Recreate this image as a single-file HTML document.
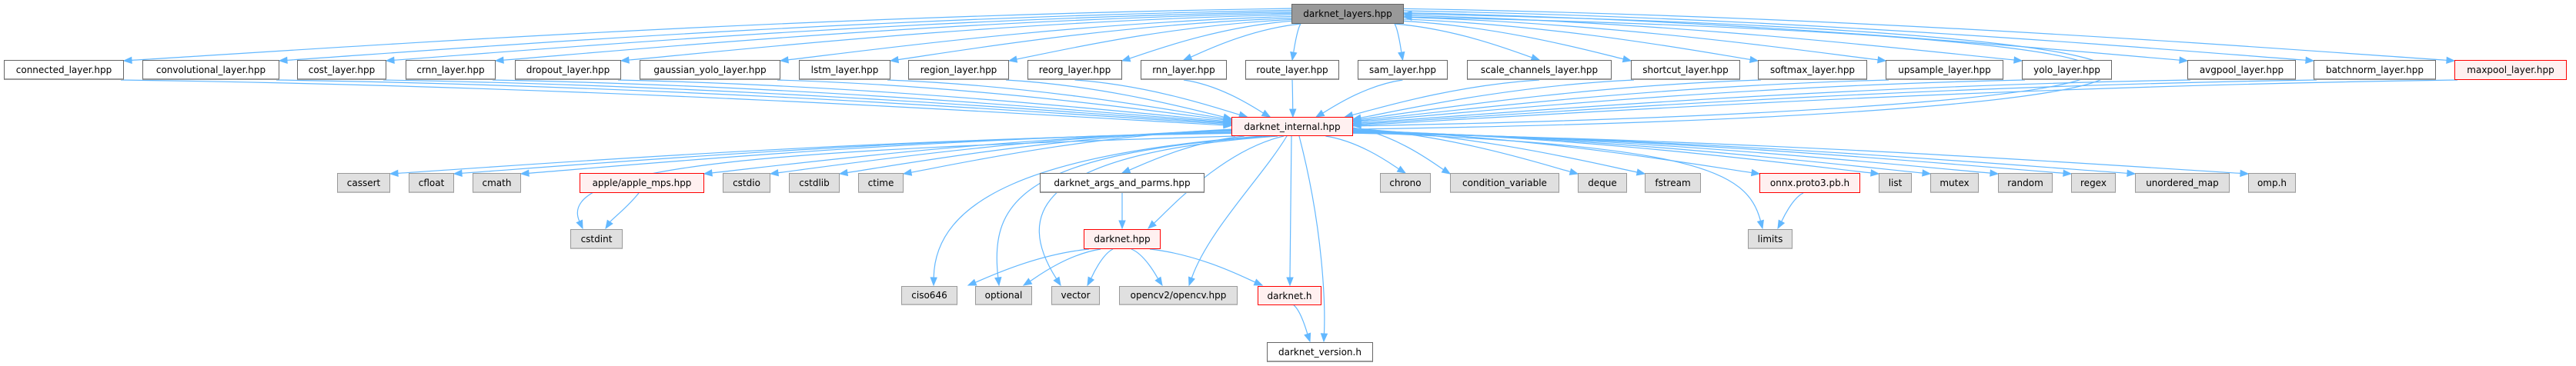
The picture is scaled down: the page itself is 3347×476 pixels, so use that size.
<!DOCTYPE html>
<html><head><meta charset="utf-8">
<style>
html,body{margin:0;padding:0;background:#fff;}
#c{position:relative;width:3347px;height:476px;overflow:hidden;}
svg{position:absolute;left:0;top:0;}
.n{position:absolute;box-sizing:border-box;font-family:"DejaVu Sans","Liberation Sans",sans-serif;font-size:12px;color:#000;display:flex;align-items:center;justify-content:center;white-space:nowrap;}
.w{background:#fff;border:1px solid #666;border-bottom:2px solid #999;}
.g{background:#e0e0e0;border:1px solid #999;border-bottom:2px solid #bbb;}
.r{background:#fff0f0;border:1px solid #f00;}
.t{background:#999;border:1px solid #666;}
</style></head><body>
<div id="c">
<svg id="s" width="3347" height="476" xmlns="http://www.w3.org/2000/svg"></svg>
<div class="n t" style="left:1678px;top:5px;width:146px;height:26px">darknet_layers.hpp</div>
<div class="n w" style="left:5px;top:78px;width:156px;height:26px">connected_layer.hpp</div>
<div class="n w" style="left:185px;top:78px;width:178px;height:26px">convolutional_layer.hpp</div>
<div class="n w" style="left:386px;top:78px;width:116px;height:26px">cost_layer.hpp</div>
<div class="n w" style="left:527px;top:78px;width:117px;height:26px">crnn_layer.hpp</div>
<div class="n w" style="left:669px;top:78px;width:138px;height:26px">dropout_layer.hpp</div>
<div class="n w" style="left:831px;top:78px;width:183px;height:26px">gaussian_yolo_layer.hpp</div>
<div class="n w" style="left:1038px;top:78px;width:119px;height:26px">lstm_layer.hpp</div>
<div class="n w" style="left:1180px;top:78px;width:131px;height:26px">region_layer.hpp</div>
<div class="n w" style="left:1335px;top:78px;width:123px;height:26px">reorg_layer.hpp</div>
<div class="n w" style="left:1482px;top:78px;width:112px;height:26px">rnn_layer.hpp</div>
<div class="n w" style="left:1618px;top:78px;width:122px;height:26px">route_layer.hpp</div>
<div class="n w" style="left:1764px;top:78px;width:117px;height:26px">sam_layer.hpp</div>
<div class="n w" style="left:1906px;top:78px;width:188px;height:26px">scale_channels_layer.hpp</div>
<div class="n w" style="left:2119px;top:78px;width:142px;height:26px">shortcut_layer.hpp</div>
<div class="n w" style="left:2284px;top:78px;width:142px;height:26px">softmax_layer.hpp</div>
<div class="n w" style="left:2450px;top:78px;width:153px;height:26px">upsample_layer.hpp</div>
<div class="n w" style="left:2627px;top:78px;width:117px;height:26px">yolo_layer.hpp</div>
<div class="n w" style="left:2842px;top:78px;width:141px;height:26px">avgpool_layer.hpp</div>
<div class="n w" style="left:3006px;top:78px;width:159px;height:26px">batchnorm_layer.hpp</div>
<div class="n r" style="left:3189px;top:78px;width:146px;height:26px">maxpool_layer.hpp</div>
<div class="n r" style="left:1600px;top:152px;width:158px;height:25px">darknet_internal.hpp</div>
<div class="n g" style="left:438px;top:225px;width:69px;height:26px">cassert</div>
<div class="n g" style="left:531px;top:225px;width:59px;height:26px">cfloat</div>
<div class="n g" style="left:614px;top:225px;width:63px;height:26px">cmath</div>
<div class="n r" style="left:753px;top:225px;width:162px;height:26px">apple/apple_mps.hpp</div>
<div class="n g" style="left:939px;top:225px;width:62px;height:26px">cstdio</div>
<div class="n g" style="left:1025px;top:225px;width:66px;height:26px">cstdlib</div>
<div class="n g" style="left:1115px;top:225px;width:59px;height:26px">ctime</div>
<div class="n w" style="left:1351px;top:225px;width:214px;height:26px">darknet_args_and_parms.hpp</div>
<div class="n g" style="left:1793px;top:225px;width:66px;height:26px">chrono</div>
<div class="n g" style="left:1884px;top:225px;width:142px;height:26px">condition_variable</div>
<div class="n g" style="left:2050px;top:225px;width:64px;height:26px">deque</div>
<div class="n g" style="left:2137px;top:225px;width:73px;height:26px">fstream</div>
<div class="n r" style="left:2286px;top:225px;width:131px;height:26px">onnx.proto3.pb.h</div>
<div class="n g" style="left:2441px;top:225px;width:43px;height:26px">list</div>
<div class="n g" style="left:2508px;top:225px;width:63px;height:26px">mutex</div>
<div class="n g" style="left:2596px;top:225px;width:71px;height:26px">random</div>
<div class="n g" style="left:2691px;top:225px;width:58px;height:26px">regex</div>
<div class="n g" style="left:2774px;top:225px;width:123px;height:26px">unordered_map</div>
<div class="n g" style="left:2921px;top:225px;width:62px;height:26px">omp.h</div>
<div class="n g" style="left:741px;top:298px;width:68px;height:26px">cstdint</div>
<div class="n r" style="left:1408px;top:298px;width:100px;height:26px">darknet.hpp</div>
<div class="n g" style="left:2271px;top:298px;width:58px;height:26px">limits</div>
<div class="n g" style="left:1171px;top:372px;width:73px;height:25px">ciso646</div>
<div class="n g" style="left:1267px;top:372px;width:74px;height:25px">optional</div>
<div class="n g" style="left:1366px;top:372px;width:63px;height:25px">vector</div>
<div class="n g" style="left:1454px;top:372px;width:154px;height:25px">opencv2/opencv.hpp</div>
<div class="n r" style="left:1634px;top:372px;width:83px;height:25px">darknet.h</div>
<div class="n w" style="left:1646px;top:445px;width:138px;height:26px">darknet_version.h</div>
</div>
<script>
(function(){
var svg=document.getElementById('s'),NS='http://www.w3.org/2000/svg',out='';
function E(s,c1,c2,e){
 var dx=e[0]-c2[0],dy=e[1]-c2[1],L=Math.sqrt(dx*dx+dy*dy)||1;dx/=L;dy/=L;
 var bx=e[0]-dx*10,by=e[1]-dy*10;
 out+='<path d="M'+s[0]+','+s[1]+' C'+c1[0]+','+c1[1]+' '+c2[0]+','+c2[1]+' '+bx+','+by+'" fill="none" stroke="#63b8ff" stroke-width="1.2"/>';
 out+='<polygon points="'+e[0]+','+e[1]+' '+(bx-dy*4)+','+(by+dx*4)+' '+(bx+dy*4)+','+(by-dx*4)+'" fill="#63b8ff" stroke="#63b8ff"/>';
}
function S(s,e){E(s,[s[0]+(e[0]-s[0])*0.45,s[1]+(e[1]-s[1])*0.15],[s[0]+(e[0]-s[0])*0.85,e[1]-(e[1]-s[1])*0.2],e);}
var r1=[[5,161],[185,363],[386,502],[527,644],[669,807],[831,1014],[1038,1157],[1180,1311],[1335,1458],[1482,1594],[1618,1740],[1764,1881],[1906,2094],[2119,2261],[2284,2426],[2450,2603],[2627,2744],[2842,2983],[3006,3165],[3189,3335]];
var TL=1678,TR=1824,IL=1600,IR=1758;
r1.forEach(function(b){
 var cx=(b[0]+b[1])/2,s,e,d;
 if(cx<1450){d=(1450-cx)/1450;s=[TL,28-d*18];e=[b[1],79];}
 else if(cx>2150){d=(cx-2150)/1200;s=[TR,28-d*18];e=[b[0],79];}
 else{s=[Math.min(Math.max(cx,1690),1812),31];e=[Math.min(Math.max(cx,b[0]+12),b[1]-12),78];}
 S(s,e);
 // to internal
 var s2,e2;
 if(cx<1300){d=(1300-cx)/1300;s2=[b[1]-4,104];e2=[IL,154+d*10];}
 else if(cx>2050){d=(cx-2050)/1300;s2=[b[0]+4,104];e2=[IR,154+d*10];}
 else{s2=[cx,104];e2=[Math.min(Math.max(IL+(cx-1300)/750*158,IL+10),IR-10),152];}
 S(s2,e2);
});
var r3=[[438,507],[531,590],[614,677],[753,915],[939,1001],[1025,1091],[1115,1174],[1351,1565],[1793,1859],[1884,2026],[2050,2114],[2137,2210],[2286,2417],[2441,2484],[2508,2571],[2596,2667],[2691,2749],[2774,2897],[2921,2983]];
r3.forEach(function(b){
 var cx=(b[0]+b[1])/2,s,e,d;
 if(cx<1400){d=(1400-cx)/1000;s=[IL,166+d*8];e=[b[1],226];}
 else if(cx>1950){d=(cx-1950)/1100;s=[IR,166+d*8];e=[b[0],226];}
 else{s=[Math.min(Math.max(IL+(cx-1400)/550*158,IL+10),IR-10),177];e=[Math.min(Math.max(cx,b[0]+10),b[1]-10),225];}
 S(s,e);
});
E([1605,177],[1000,195],[720,215],[757,297]);
E([1640,177],[1340,200],[1215,260],[1213,371]);
E([1650,177],[1330,200],[1285,260],[1298,371]);
E([1660,177],[1340,200],[1320,280],[1378,371]);
S([1668,177],[1492,297]);
E([1672,177],[1640,230],[1570,300],[1545,371]);
E([1678,177],[1677,250],[1676,320],[1676,371]);
E([1688,177],[1720,300],[1722,400],[1720,444]);
E([1758,172],[2200,190],[2270,220],[2290,297]);
E([830,251],[815,270],[795,285],[787,297]);
E([1458,251],[1458,270],[1458,285],[1458,297]);
S([1415,324],[1258,371]);
S([1430,324],[1330,371]);
S([1446,324],[1413,371]);
S([1470,324],[1510,371]);
S([1494,324],[1640,371]);
S([1681,397],[1702,444]);
S([2343,251],[2310,297]);
E([1758,168],[3000,150],[3110,45],[1824,18]);
E([1758,164],[2980,140],[3075,50],[1824,22]);
svg.innerHTML=out;
})();
</script>
</body></html>
